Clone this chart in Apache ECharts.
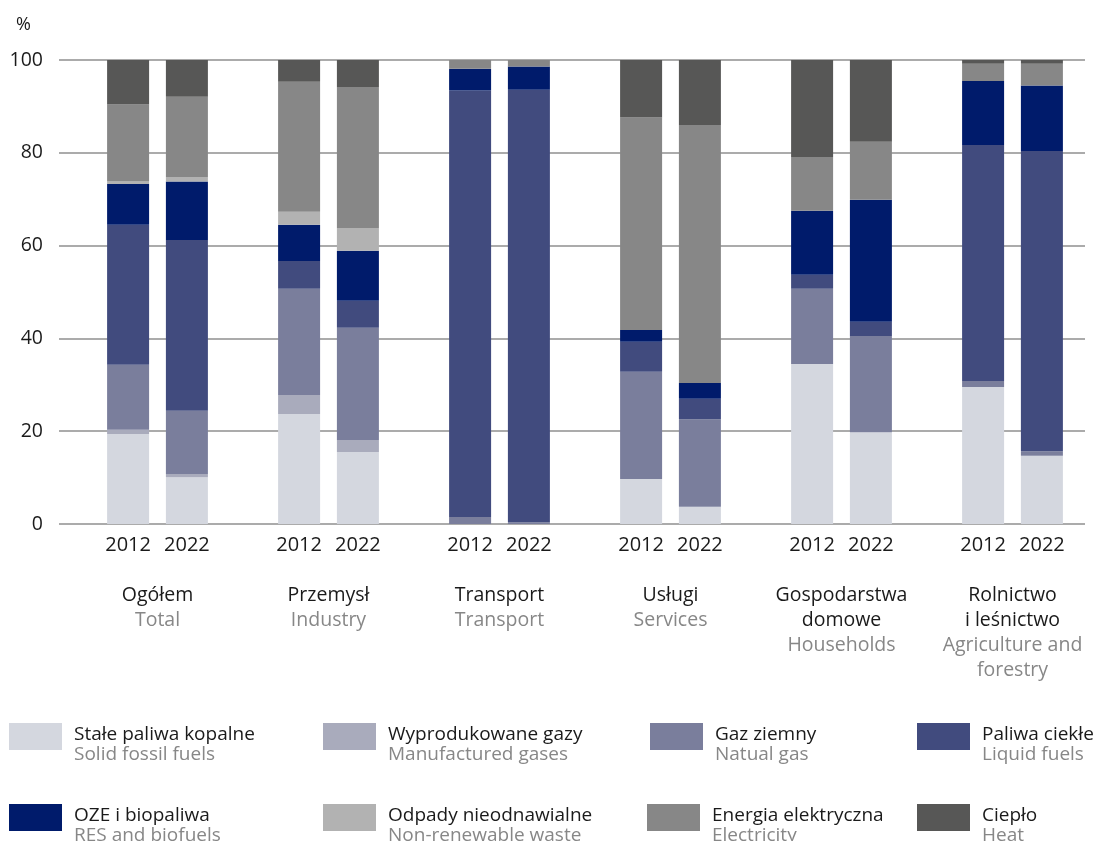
<!DOCTYPE html>
<html>
<head>
<meta charset="utf-8">
<script src="https://cdn.jsdelivr.net/npm/echarts@6/dist/echarts.min.js"></script>
<style>
html,body{margin:0;padding:0;background:#fff;}
#chart{width:1100px;height:841px;}
</style>
</head>
<body>
<div id="chart"></div>
<script>
// Categories
const categoriesPl = ['Ogółem', 'Przemysł', 'Transport', 'Usługi', 'Gospodarstwa\ndomowe', 'Rolnictwo\ni leśnictwo'];
const categoriesEn = ['Total', 'Industry', 'Transport', 'Services', 'Households', 'Agriculture and\nforestry'];
const years = ['2012', '2022'];
const yTicks = [0, 20, 40, 60, 80, 100];

// Fuels (legend)
const fuelsPl = ['Stałe paliwa kopalne', 'Wyprodukowane gazy', 'Gaz ziemny', 'Paliwa ciekłe', 'OZE i biopaliwa', 'Odpady nieodnawialne', 'Energia elektryczna', 'Ciepło'];
const fuelsEn = ['Solid fossil fuels', 'Manufactured gases', 'Natual gas', 'Liquid fuels', 'RES and biofuels', 'Non-renewable waste', 'Electricity', 'Heat'];
const fuelColors = ['#d4d7df', '#a9abbc', '#7a7e9c', '#414b7e', '#001b6b', '#b2b2b2', '#878787', '#575756'];

// Shares (%) per category: Ogółem, Przemysł, Transport, Usługi, Gospodarstwa, Rolnictwo
const solid2012  = [19.4, 23.7, 0,    9.7,  34.5, 29.5];
const manuf2012  = [0.9,  4.1,  0,    0,    0,    0];
const gas2012    = [14.0, 22.9, 1.5,  23.1, 16.2, 1.3];
const liquid2012 = [30.2, 6.0,  91.9, 6.5,  3.0,  50.9];
const res2012    = [8.8,  7.8,  4.7,  2.5,  13.8, 13.8];
const waste2012  = [0.5,  2.8,  0,    0,    0,    0];
const elec2012   = [16.6, 28.0, 1.9,  45.8, 11.6, 3.7];
const heat2012   = [9.6,  4.7,  0,    12.4, 20.9, 0.8];

const solid2022  = [10.1, 15.5, 0,    3.7,  19.8, 14.7];
const manuf2022  = [0.7,  2.6,  0,    0,    0,    0];
const gas2022    = [13.6, 24.2, 0.4,  18.9, 20.7, 1.0];
const liquid2022 = [36.8, 5.8,  93.2, 4.4,  3.1,  64.7];
const res2022    = [12.6, 10.8, 5.0,  3.4,  26.3, 14.1];
const waste2022  = [1.0,  4.9,  0,    0,    0,    0];
const elec2022   = [17.3, 30.4, 1.4,  55.6, 12.5, 4.7];
const heat2022   = [7.9,  5.8,  0,    14.0, 17.6, 0.8];

const yearData = {
  '2012': [solid2012, manuf2012, gas2012, liquid2012, res2012, waste2012, elec2012, heat2012],
  '2022': [solid2022, manuf2022, gas2022, liquid2022, res2022, waste2022, elec2022, heat2022]
};

const FONT = 'Open Sans';
const series = [];
years.forEach(function (yr) {
  yearData[yr].forEach(function (arr, f) {
    const s = {
      type: 'bar',
      name: fuelsPl[f],
      stack: yr,
      xAxisIndex: 1,
      yAxisIndex: 1,
      barWidth: 42,
      barGap: '40%',
      itemStyle: { color: fuelColors[f] },
      emphasis: { disabled: true },
      data: arr
    };
    if (f === 0) {
      s.label = {
        show: true,
        position: 'bottom',
        distance: 11,
        formatter: yr,
        fontFamily: FONT,
        fontSize: 20,
        color: '#1a1a1a'
      };
    }
    series.push(s);
  });
});

// Legend positions (4 columns x 2 rows)
const legendLeft = [9, 323, 650, 917, 9, 323, 647, 917];
const legendTop = [723, 723, 723, 723, 804, 804, 804, 804];
const legends = fuelsPl.map(function (name, i) {
  return {
    data: [name],
    left: legendLeft[i],
    top: legendTop[i],
    padding: 0,
    icon: 'rect',
    itemWidth: 53,
    itemHeight: 27,
    selectedMode: false,
    formatter: function (n) {
      return '{pl|' + n + '}\n{en|' + fuelsEn[fuelsPl.indexOf(n)] + '}';
    },
    textStyle: {
      fontFamily: FONT,
      padding: [16, 0, 0, 7],
      rich: {
        pl: { fontFamily: FONT, fontSize: 19, color: '#1a1a1a', lineHeight: 20 },
        en: { fontFamily: FONT, fontSize: 19, color: '#878787', lineHeight: 20 }
      }
    }
  };
});

const chart = echarts.init(document.getElementById('chart'), null, { renderer: 'canvas' });
chart.setOption({
  animation: false,
  backgroundColor: '#ffffff',
  textStyle: { fontFamily: FONT },
  title: {
    text: '%',
    left: 11,
    top: 11,
    textStyle: { fontFamily: FONT, fontSize: 18, fontWeight: 'normal', color: '#1a1a1a' }
  },
  legend: legends,
  grid: [
    { left: 59, right: 15, top: 60, bottom: 317 },
    { left: 72, right: 2, top: 60, bottom: 317 }
  ],
  xAxis: [
    { type: 'category', gridIndex: 0, data: categoriesPl, show: false },
    {
      type: 'category',
      gridIndex: 1,
      data: categoriesPl,
      axisLine: { show: false },
      axisTick: { show: false },
      axisLabel: {
        interval: 0,
        margin: 59,
        formatter: function (v, idx) {
          const pl = categoriesPl[idx].split('\n').map(function (t) { return '{pl|' + t + '}'; });
          const en = categoriesEn[idx].split('\n').map(function (t) { return '{en|' + t + '}'; });
          return pl.concat(en).join('\n');
        },
        rich: {
          pl: { fontFamily: FONT, fontSize: 19.5, color: '#1a1a1a', lineHeight: 25 },
          en: { fontFamily: FONT, fontSize: 19.5, color: '#878787', lineHeight: 25 }
        }
      }
    }
  ],
  yAxis: [
    {
      type: 'value',
      gridIndex: 0,
      min: yTicks[0],
      max: yTicks[yTicks.length - 1],
      interval: 20,
      axisLine: { show: false },
      axisTick: { show: false },
      axisLabel: { fontFamily: FONT, fontSize: 19.5, color: '#1a1a1a', margin: 16 },
      splitLine: { show: true, lineStyle: { color: '#8f8f8f', width: 1.5 } }
    },
    {
      type: 'value',
      gridIndex: 1,
      min: 0,
      max: 100,
      show: false,
      splitLine: { show: false }
    }
  ],
  series: series
});
</script>
</body>
</html>
